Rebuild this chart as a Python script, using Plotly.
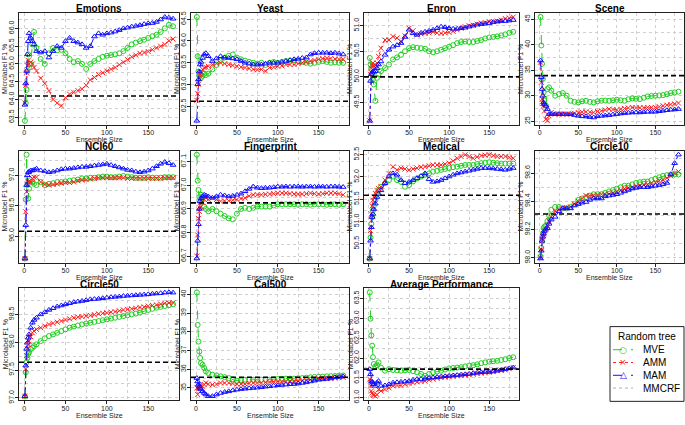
import plotly.graph_objects as go

ensemble_size = [1, 2, 3, 4, 5, 6, 8, 10, 12, 15,
                 20, 25, 30, 35, 40, 45, 50, 55, 60, 65, 70, 75, 80, 85, 90, 95,
                 100, 105, 110, 115, 120, 125, 130, 135, 140, 145, 150, 155, 160,
                 165, 170, 175, 180]

dataset_names = ["Emotions", "Yeast", "Enron", "Scene", "NCI60", "Fingerprint",
                 "Medical", "Circle10", "Circle50", "Cal500", "Average Performance"]

mmcrf_f1 = [64.10, 62.62, 50.00, 33.95, 96.08, 66.926, 51.59, 98.31, 97.64, 35.57, 61.72]

emotions_mve = [63.40, 63.90, 64.27, 64.80, 65.27, 64.90, 65.00, 65.55, 65.90, 65.45,
                65.14, 65.00, 65.30, 65.45, 65.38, 65.40, 65.30, 65.14, 65.05, 65.08, 65.00, 64.86, 65.00, 65.08, 65.14, 65.20,
                65.23, 65.25, 65.27, 65.30, 65.36, 65.45, 65.55, 65.60, 65.64, 65.68, 65.73, 65.78, 65.82,
                65.90, 66.00, 66.10, 66.06]
emotions_amm = [63.90, 64.40, 64.75, 64.95, 65.10, 65.00, 65.05, 65.00, 64.90, 64.80,
                64.60, 64.45, 64.25, 64.00, 63.90, 63.82, 64.05, 64.15, 64.20, 64.25, 64.30, 64.40, 64.55, 64.62, 64.70, 64.75,
                64.80, 64.85, 64.90, 64.98, 65.05, 65.12, 65.20, 65.25, 65.30, 65.32, 65.35, 65.40, 65.45,
                65.50, 65.55, 65.65, 65.70]
emotions_mam = [63.85, 64.45, 64.80, 65.27, 65.64, 65.86, 65.73, 65.64, 65.55, 65.36,
                65.32, 65.36, 65.18, 65.36, 65.50, 65.45, 65.64, 65.73, 65.64, 65.60, 65.55, 65.45, 65.50, 65.77, 65.86, 65.82,
                65.86, 65.88, 65.91, 65.95, 66.00, 66.02, 66.05, 66.07, 66.09, 66.12, 66.14, 66.15, 66.18,
                66.25, 66.32, 66.30, 66.27]

yeast_mve = [64.55, 63.65, 63.30, 63.20, 63.22, 63.15, 63.20, 63.25, 63.22, 63.25,
             63.35, 63.45, 63.55, 63.62, 63.66, 63.69, 63.62, 63.58, 63.55, 63.52, 63.50, 63.48, 63.50, 63.45, 63.50, 63.52,
             63.50, 63.52, 63.54, 63.55, 63.56, 63.54, 63.52, 63.50, 63.48, 63.50, 63.52, 63.54, 63.52,
             63.50, 63.51, 63.50, 63.50]
yeast_amm = [62.64, 62.79, 63.01, 63.15, 63.24, 63.28, 63.35, 63.39, 63.40, 63.42,
             63.46, 63.48, 63.50, 63.48, 63.46, 63.44, 63.42, 63.40, 63.39, 63.37, 63.35, 63.34, 63.35, 63.31, 63.39, 63.40,
             63.42, 63.43, 63.46, 63.46, 63.46, 63.48, 63.50, 63.52, 63.54, 63.56, 63.58, 63.60, 63.61,
             63.60, 63.59, 63.58, 63.58]
yeast_mam = [62.17, 63.01, 63.12, 63.30, 63.46, 63.52, 63.61, 63.69, 63.72, 63.65,
             63.54, 63.60, 63.65, 63.62, 63.61, 63.60, 63.58, 63.54, 63.50, 63.48, 63.46, 63.46, 63.46, 63.48, 63.50, 63.50,
             63.50, 63.52, 63.54, 63.56, 63.58, 63.59, 63.61, 63.62, 63.69, 63.72, 63.73, 63.73, 63.73,
             63.72, 63.73, 63.71, 63.69]

enron_mve = [50.37, 50.24, 50.15, 50.05, 49.95, 49.85, 49.53, 49.98, 50.05, 50.11,
             50.17, 50.24, 50.34, 50.38, 50.43, 50.50, 50.56, 50.58, 50.57, 50.56, 50.55, 50.50, 50.48, 50.50, 50.53, 50.56,
             50.59, 50.62, 50.66, 50.68, 50.69, 50.68, 50.68, 50.70, 50.72, 50.75, 50.77, 50.78, 50.79,
             50.81, 50.83, 50.86, 50.88]
enron_amm = [49.14, 50.05, 50.17, 50.22, 50.27, 50.22, 50.17, 50.27, 50.40, 50.56,
             50.72, 50.72, 50.79, 50.76, 50.69, 50.80, 50.95, 50.90, 50.82, 50.84, 50.85, 50.86, 50.88, 50.86, 50.85, 50.86,
             50.87, 50.89, 50.92, 50.95, 50.98, 51.00, 51.01, 51.03, 51.05, 51.06, 51.08, 51.08, 51.09,
             51.11, 51.14, 51.15, 51.17]
enron_mam = [49.14, 49.92, 50.05, 50.08, 50.11, 50.10, 50.11, 50.17, 50.24, 50.30,
             50.43, 50.53, 50.59, 50.62, 50.66, 50.78, 50.92, 50.85, 50.82, 50.86, 50.88, 50.90, 50.92, 50.95, 50.98, 50.97,
             50.95, 50.94, 50.94, 50.95, 50.96, 50.98, 51.00, 51.02, 51.03, 51.04, 51.05, 51.07, 51.08,
             51.09, 51.09, 51.10, 51.11]

scene_mve = [45.46, 39.87, 36.25, 33.29, 30.66, 29.01, 28.03, 31.32, 31.64, 31.00,
             30.00, 30.33, 30.53, 30.00, 29.01, 28.80, 28.68, 28.90, 29.01, 28.80, 28.68, 28.90, 29.01, 29.05, 29.01, 29.10,
             29.21, 29.10, 29.01, 29.30, 29.47, 29.40, 29.34, 29.60, 29.87, 29.95, 30.00, 30.05, 30.13,
             30.30, 30.53, 30.65, 30.79]
scene_amm = [36.58, 32.63, 29.34, 28.50, 28.03, 27.00, 25.39, 25.07, 26.05, 26.71,
             26.38, 26.40, 26.38, 26.40, 26.38, 26.55, 26.71, 26.80, 26.84, 26.75, 26.71, 26.90, 27.04, 27.20, 27.37, 27.30,
             27.24, 27.35, 27.50, 27.60, 27.70, 27.65, 27.63, 27.66, 27.70, 27.70, 27.70, 27.85, 28.03,
             28.15, 28.29, 28.40, 28.55]
scene_mam = [36.91, 33.62, 31.32, 30.00, 28.68, 28.30, 28.03, 27.37, 26.38, 26.38,
             26.38, 26.38, 26.38, 26.35, 26.38, 26.20, 26.05, 25.95, 25.92, 25.80, 25.72, 25.95, 26.05, 26.10, 26.18, 26.30,
             26.38, 26.50, 26.58, 26.65, 26.71, 26.71, 26.71, 26.78, 26.84, 26.84, 26.84, 26.95, 27.04,
             27.15, 27.24, 27.30, 27.37]

nci60_mve = [95.63, 96.60, 97.34, 96.84, 96.62, 96.78, 96.92, 96.89, 96.86, 96.84,
             96.89, 96.84, 96.86, 96.87, 96.89, 96.89, 96.90, 96.91, 96.92, 96.93, 96.95, 96.95, 96.96, 96.96, 96.97, 96.98,
             96.98, 96.97, 96.97, 96.98, 96.99, 96.98, 96.97, 96.96, 96.96, 96.96, 96.97, 96.96, 96.96,
             96.96, 96.97, 96.97, 96.97]
nci60_amm = [95.63, 96.40, 96.73, 96.85, 96.89, 96.90, 96.89, 96.95, 96.97, 96.97,
             96.89, 96.85, 96.84, 96.85, 96.86, 96.87, 96.88, 96.88, 96.89, 96.91, 96.92, 96.93, 96.94, 96.95, 96.96, 96.96,
             96.96, 96.96, 96.96, 96.96, 96.96, 96.95, 96.95, 96.95, 96.95, 96.95, 96.95, 96.95, 96.95,
             96.95, 96.96, 96.96, 96.96]
nci60_mam = [95.63, 96.18, 96.84, 97.00, 97.05, 97.06, 97.08, 97.08, 97.09, 97.11,
             97.08, 97.07, 97.05, 97.06, 97.08, 97.10, 97.11, 97.11, 97.12, 97.13, 97.14, 97.14, 97.15, 97.16, 97.17, 97.18,
             97.19, 97.17, 97.15, 97.13, 97.11, 97.09, 97.08, 97.06, 97.05, 97.06, 97.08, 97.11, 97.15,
             97.19, 97.22, 97.20, 97.17]

fingerprint_mve = [67.13, 67.02, 66.98, 66.95, 66.93, 66.96, 66.95, 66.91, 66.90, 66.89,
                   66.90, 66.89, 66.88, 66.87, 66.86, 66.856, 66.88, 66.90, 66.905, 66.90, 66.905, 66.91, 66.91, 66.91, 66.91, 66.915,
                   66.92, 66.92, 66.92, 66.92, 66.92, 66.918, 66.92, 66.92, 66.918, 66.92, 66.92, 66.92, 66.918,
                   66.92, 66.92, 66.918, 66.92]
fingerprint_amm = [66.70, 66.79, 66.86, 66.89, 66.905, 66.91, 66.926, 66.94, 66.947, 66.94,
                   66.947, 66.94, 66.933, 66.934, 66.935, 66.937, 66.94, 66.944, 66.947, 66.955, 66.96, 66.96, 66.96, 66.962, 66.963, 66.965,
                   66.967, 66.967, 66.967, 66.965, 66.963, 66.963, 66.963, 66.965, 66.967, 66.965, 66.963, 66.965, 66.967,
                   66.967, 66.967, 66.965, 66.96]
fingerprint_mam = [66.69, 66.765, 66.835, 66.90, 66.933, 66.945, 66.953, 66.96, 66.957, 66.953,
                   66.947, 66.953, 66.96, 66.957, 66.953, 66.955, 66.96, 66.965, 66.975, 66.985, 66.995, 66.99, 66.988, 66.989, 66.99, 66.992,
                   66.995, 66.994, 66.995, 66.994, 66.995, 66.995, 66.994, 66.995, 66.995, 66.994, 66.995, 66.995, 66.994,
                   66.995, 66.995, 66.994, 66.993]

medical_mve = [50.17, 50.64, 50.95, 51.10, 51.25, 51.35, 51.48, 51.63, 51.70, 51.78,
               51.86, 51.93, 52.01, 51.93, 51.89, 51.78, 51.82, 51.90, 51.97, 52.01, 52.05, 52.08, 52.12, 52.14, 52.16, 52.18,
               52.20, 52.22, 52.23, 52.25, 52.27, 52.27, 52.27, 52.29, 52.31, 52.32, 52.33, 52.32, 52.31,
               52.30, 52.30, 52.30, 52.30]
medical_amm = [50.17, 50.80, 51.17, 51.35, 51.48, 51.55, 51.63, 51.70, 51.74, 51.78,
               51.93, 52.08, 52.23, 52.16, 52.20, 52.18, 52.16, 52.18, 52.20, 52.22, 52.23, 52.25, 52.27, 52.27, 52.27, 52.29,
               52.31, 52.36, 52.42, 52.46, 52.50, 52.46, 52.42, 52.45, 52.48, 52.49, 52.50, 52.48, 52.46,
               52.46, 52.46, 52.44, 52.42]
medical_mam = [50.17, 50.57, 50.87, 51.10, 51.17, 51.28, 51.40, 51.55, 51.62, 51.70,
               51.86, 52.01, 52.08, 52.05, 51.93, 51.86, 51.89, 51.93, 51.97, 52.02, 52.08, 51.95, 51.89, 51.90, 51.93, 51.97,
               52.01, 52.05, 52.08, 52.10, 52.12, 52.14, 52.16, 52.18, 52.20, 52.20, 52.20, 52.19, 52.18,
               52.17, 52.16, 52.18, 52.20]

circle10_mve = [98.01, 98.07, 98.12, 98.17, 98.21, 98.22, 98.23, 98.26, 98.30, 98.34,
                98.36, 98.36, 98.35, 98.35, 98.36, 98.38, 98.41, 98.42, 98.43, 98.44, 98.45, 98.45, 98.45, 98.46, 98.47, 98.48,
                98.49, 98.50, 98.51, 98.51, 98.52, 98.53, 98.535, 98.54, 98.54, 98.55, 98.56, 98.57, 98.58,
                98.585, 98.59, 98.59, 98.59]
circle10_amm = [98.00, 98.06, 98.12, 98.15, 98.17, 98.19, 98.20, 98.23, 98.26, 98.29,
                98.33, 98.34, 98.35, 98.355, 98.36, 98.38, 98.40, 98.42, 98.44, 98.44, 98.44, 98.445, 98.45, 98.45, 98.45, 98.46,
                98.47, 98.48, 98.49, 98.495, 98.50, 98.505, 98.51, 98.515, 98.52, 98.53, 98.535, 98.545, 98.55,
                98.565, 98.58, 98.60, 98.61]
circle10_mam = [97.995, 98.05, 98.12, 98.15, 98.17, 98.19, 98.205, 98.21, 98.24, 98.27,
                98.29, 98.33, 98.35, 98.35, 98.35, 98.37, 98.38, 98.39, 98.395, 98.41, 98.42, 98.42, 98.42, 98.435, 98.44, 98.445,
                98.45, 98.46, 98.47, 98.48, 98.49, 98.495, 98.50, 98.50, 98.50, 98.505, 98.51, 98.515, 98.52,
                98.53, 98.59, 98.67, 98.73]

circle50_mve = [97.03, 97.46, 97.64, 97.72, 97.79, 97.82, 97.875, 97.90, 97.93, 97.96,
                98.02, 98.07, 98.11, 98.14, 98.17, 98.20, 98.23, 98.26, 98.28, 98.30, 98.32, 98.335, 98.35, 98.365, 98.38, 98.395,
                98.41, 98.425, 98.44, 98.455, 98.47, 98.485, 98.50, 98.515, 98.53, 98.555, 98.58, 98.60, 98.62,
                98.635, 98.65, 98.665, 98.68]
circle50_amm = [97.03, 97.52, 97.76, 97.88, 97.96, 98.02, 98.10, 98.17, 98.20, 98.23,
                98.26, 98.29, 98.32, 98.34, 98.36, 98.38, 98.40, 98.42, 98.44, 98.45, 98.46, 98.47, 98.48, 98.495, 98.51, 98.52,
                98.53, 98.54, 98.55, 98.565, 98.58, 98.59, 98.60, 98.61, 98.625, 98.635, 98.65, 98.66, 98.67,
                98.685, 98.70, 98.705, 98.71]
circle50_mam = [97.03, 97.58, 97.88, 97.99, 98.08, 98.14, 98.26, 98.35, 98.40, 98.44,
                98.50, 98.54, 98.58, 98.61, 98.64, 98.66, 98.68, 98.70, 98.72, 98.73, 98.74, 98.755, 98.77, 98.775, 98.78, 98.79,
                98.80, 98.81, 98.815, 98.82, 98.83, 98.835, 98.84, 98.845, 98.85, 98.855, 98.86, 98.87, 98.875,
                98.88, 98.89, 98.895, 98.89]

cal500_mve = [40.11, 38.37, 37.48, 36.95, 36.60, 36.33, 36.24, 36.06, 35.89, 35.80,
              35.71, 35.67, 35.62, 35.58, 35.53, 35.46, 35.39, 35.42, 35.44, 35.44, 35.44, 35.44, 35.44, 35.44, 35.44, 35.46,
              35.48, 35.49, 35.50, 35.50, 35.50, 35.52, 35.53, 35.55, 35.57, 35.59, 35.60, 35.61, 35.62,
              35.63, 35.64, 35.66, 35.67]
cal500_amm = [35.00, 34.65, 35.00, 35.10, 35.18, 35.12, 35.09, 35.18, 35.27, 35.21,
              35.18, 35.21, 35.27, 35.27, 35.27, 35.24, 35.21, 35.21, 35.21, 35.24, 35.27, 35.27, 35.27, 35.30, 35.32, 35.34,
              35.35, 35.35, 35.35, 35.37, 35.39, 35.39, 35.39, 35.41, 35.44, 35.46, 35.50, 35.50, 35.50,
              35.52, 35.53, 35.55, 35.57]
cal500_mam = [35.53, 35.35, 35.18, 35.08, 35.00, 34.92, 34.82, 34.73, 34.65, 34.56,
              34.56, 34.65, 34.73, 34.78, 34.82, 34.87, 34.91, 34.94, 34.96, 34.98, 35.00, 35.02, 35.04, 35.07, 35.09, 35.12,
              35.14, 35.16, 35.18, 35.20, 35.21, 35.24, 35.27, 35.30, 35.35, 35.39, 35.44, 35.46, 35.48,
              35.51, 35.57, 35.59, 35.62]

average_mve = [63.65, 62.99, 62.57, 62.31, 62.02, 61.85, 61.79, 61.82, 61.89, 61.76,
               61.68, 61.72, 61.70, 61.69, 61.68, 61.69, 61.70, 61.67, 61.64, 61.60, 61.55, 61.60, 61.64, 61.66, 61.68, 61.71,
               61.74, 61.75, 61.76, 61.77, 61.79, 61.81, 61.82, 61.84, 61.87, 61.89, 61.91, 61.92, 61.93,
               61.95, 61.97, 62.00, 62.02]
average_amm = [61.47, 61.30, 61.17, 61.12, 61.08, 61.06, 61.04, 61.08, 61.21, 61.17,
               61.21, 61.25, 61.30, 61.31, 61.31, 61.34, 61.36, 61.38, 61.40, 61.41, 61.42, 61.45, 61.47, 61.49, 61.51, 61.52,
               61.53, 61.54, 61.55, 61.56, 61.57, 61.58, 61.59, 61.61, 61.62, 61.63, 61.64, 61.66, 61.68,
               61.69, 61.70, 61.73, 61.76]
average_mam = [61.72, 61.59, 61.42, 61.40, 61.38, 61.34, 61.30, 61.38, 61.42, 61.30,
               61.31, 61.34, 61.38, 61.39, 61.40, 61.41, 61.42, 61.45, 61.47, 61.47, 61.48, 61.50, 61.51, 61.52, 61.53, 61.54,
               61.55, 61.56, 61.57, 61.58, 61.59, 61.60, 61.62, 61.63, 61.64, 61.65, 61.65, 61.66, 61.68,
               61.70, 61.72, 61.74, 61.76]

mve_series = [emotions_mve, yeast_mve, enron_mve, scene_mve, nci60_mve, fingerprint_mve,
              medical_mve, circle10_mve, circle50_mve, cal500_mve, average_mve]
amm_series = [emotions_amm, yeast_amm, enron_amm, scene_amm, nci60_amm, fingerprint_amm,
              medical_amm, circle10_amm, circle50_amm, cal500_amm, average_amm]
mam_series = [emotions_mam, yeast_mam, enron_mam, scene_mam, nci60_mam, fingerprint_mam,
              medical_mam, circle10_mam, circle50_mam, cal500_mam, average_mam]

y_dticks = [0.5, 0.5, 0.5, 5, 0.5, 0.1, 0.5, 0.2, 0.5, 1, 0.5]
y_formats = [".1f", ".1f", ".1f", ".0f", ".1f", ".1f", ".1f", ".1f", ".1f", ".0f", ".1f"]

W, H = 685, 425
# plot-box pixel positions (left, right) per column and (top, bottom) per row
col_px = [(19, 179), (191, 349), (364, 519), (535, 684)]
row_px = [(9, 123), (149, 263), (289, 403)]

FONT = "Liberation Sans, Arial, sans-serif"
GREEN, RED, BLUE = "#1fcf1f", "#ff2020", "#1010ff"
INK = "#222222"
GRID = "#cfcfcf"

styles = [
    ("MVE", GREEN, "dash", "circle-open"),
    ("AMM", RED, "dot", "x-thin-open"),
    ("MAM", BLUE, "dashdot", "triangle-up-open"),
]

fig = go.Figure()
annotations = []
shapes = []
x_lo, x_hi = 1, 180
x_pad = (x_hi - x_lo) * 0.04

for i, name in enumerate(dataset_names):
    r, c = divmod(i, 4)
    n = i + 1
    xa = "x" if n == 1 else f"x{n}"
    ya = "y" if n == 1 else f"y{n}"
    left, right = col_px[c]
    top, bottom = row_px[r]

    values = mve_series[i] + amm_series[i] + mam_series[i] + [mmcrf_f1[i]]
    lo, hi = min(values), max(values)
    pad = (hi - lo) * 0.04

    for (label, colour, dash, symbol), series in zip(
            styles, [mve_series[i], amm_series[i], mam_series[i]]):
        fig.add_trace(go.Scatter(
            x=ensemble_size, y=series, xaxis=xa, yaxis=ya,
            mode="lines+markers", name=label, showlegend=False,
            line=dict(color=colour, width=1, dash=dash),
            marker=dict(symbol=symbol, size=5, color=colour,
                        line=dict(color=colour, width=1)),
        ))
    # MMCRF baseline
    fig.add_trace(go.Scatter(
        x=[x_lo - x_pad, x_hi + x_pad], y=[mmcrf_f1[i]] * 2, xaxis=xa, yaxis=ya,
        mode="lines", name="MMCRF", showlegend=False, hoverinfo="skip",
        line=dict(color="black", width=1.6, dash="5px,3px"),
    ))

    axis_common = dict(
        showline=True, mirror=True, linecolor=INK, linewidth=1,
        ticks="outside", ticklen=3, tickcolor=INK,
        tickfont=dict(size=7, family=FONT, color=INK),
        ticklabelstandoff=-2,
        showgrid=True, gridcolor=GRID, griddash="dot", gridwidth=1,
        zeroline=False,
    )
    fig.layout[f"xaxis{'' if n == 1 else n}"] = dict(
        axis_common, domain=[left / W, right / W], anchor=ya,
        range=[x_lo - x_pad, x_hi + x_pad], tickvals=[0, 50, 100, 150],
        minor=dict(dtick=25, tick0=0, showgrid=True, gridcolor=GRID,
                   griddash="dot", ticks=""),
    )
    fig.layout[f"yaxis{'' if n == 1 else n}"] = dict(
        axis_common, domain=[1 - bottom / H, 1 - top / H], anchor=xa,
        range=[lo - pad, hi + pad], dtick=y_dticks[i], tick0=0,
        tickformat=y_formats[i], tickangle=-90,
        minor=dict(dtick=y_dticks[i] / 2, tick0=0, showgrid=True, gridcolor=GRID,
                   griddash="dot", ticks=""),
    )

    cx = (left + right) / 2 / W
    annotations.append(dict(
        text=f"<b>{name}</b>", x=cx, y=1 - (top + 2.5) / H, xref="paper", yref="paper",
        xanchor="center", yanchor="bottom", showarrow=False, borderpad=0,
        font=dict(size=10, family=FONT, color="black"),
    ))
    annotations.append(dict(
        text="Ensemble Size", x=cx, y=1 - (bottom + 15) / H, xref="paper", yref="paper",
        xanchor="center", yanchor="middle", showarrow=False, borderpad=0,
        font=dict(size=7, family=FONT, color=INK),
    ))
    annotations.append(dict(
        text="Microlabel F1 %", x=(left - 14) / W, y=1 - (top + bottom) / 2 / H,
        xref="paper", yref="paper", xanchor="center", yanchor="middle",
        textangle=-90, showarrow=False, borderpad=0,
        font=dict(size=7, family=FONT, color=INK),
    ))

# hand-built legend box in the empty 12th cell
leg_l, leg_r, leg_t, leg_b = 610, 684, 328, 404
shapes.append(dict(type="rect", xref="paper", yref="paper",
                   x0=leg_l / W, x1=leg_r / W, y0=1 - leg_b / H, y1=1 - leg_t / H,
                   line=dict(color=INK, width=1), fillcolor="white"))
annotations.append(dict(
    text="Random tree", x=(leg_l + leg_r) / 2 / W, y=1 - 338.5 / H,
    xref="paper", yref="paper", xanchor="center", yanchor="middle",
    showarrow=False, font=dict(size=10, family=FONT, color="black"),
))
legend_rows = [
    ("MVE", GREEN, "dash", "○", 351.5),
    ("AMM", RED, "dot", "×", 364.5),
    ("MAM", BLUE, "dash", "△", 377.5),
    ("MMCRF", "#b0b0b0", "dot", "", 390.5),
]
for label, colour, dash, glyph, yy in legend_rows:
    shapes.append(dict(type="line", xref="paper", yref="paper",
                       x0=613 / W, x1=633 / W, y0=1 - yy / H, y1=1 - yy / H,
                       line=dict(color=colour, width=1, dash=dash)))
    if glyph:
        annotations.append(dict(
            text=glyph, x=623 / W, y=1 - yy / H, xref="paper", yref="paper",
            xanchor="center", yanchor="middle", showarrow=False, borderpad=0,
            font=dict(size=9, family="DejaVu Sans", color=colour),
        ))
    annotations.append(dict(
        text=label, x=642 / W, y=1 - yy / H, xref="paper", yref="paper",
        xanchor="left", yanchor="middle", showarrow=False, borderpad=0,
        font=dict(size=10, family=FONT, color="black"),
    ))

fig.update_layout(
    width=W, height=H,
    margin=dict(l=0, r=0, t=0, b=0),
    paper_bgcolor="white", plot_bgcolor="white",
    annotations=annotations,
    shapes=shapes,
    showlegend=False,
)

# drop the browser's default body margin so the figure sits at the page origin
fig.write_html(
    "out.html",
    config={"displayModeBar": False},
    post_script="document.body.style.margin = '0px';",
)
